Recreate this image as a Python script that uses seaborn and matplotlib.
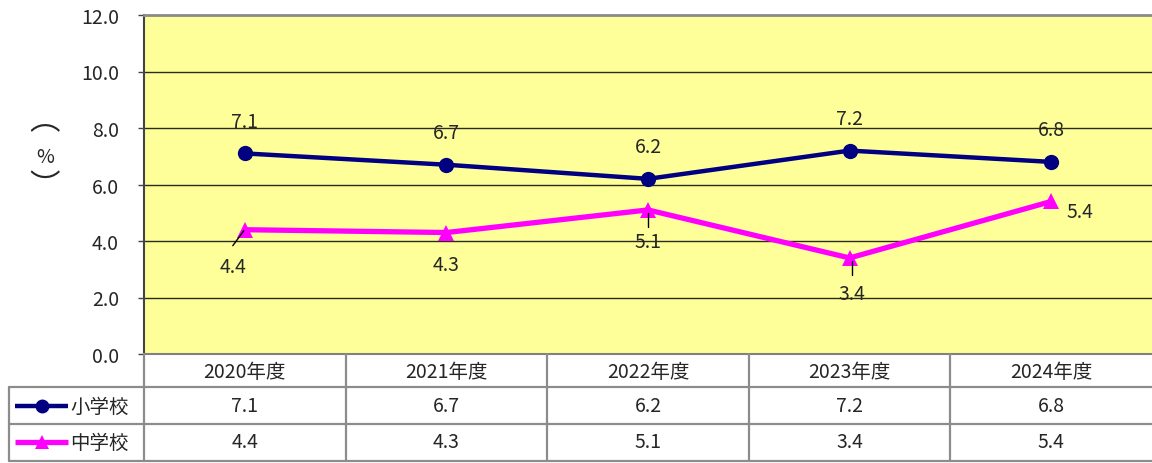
import matplotlib
matplotlib.use("Agg")
import matplotlib.pyplot as plt
import seaborn as sns
import pandas as pd

# ---- data ----
years = ["2020年度", "2021年度", "2022年度", "2023年度", "2024年度"]
elementary = [7.1, 6.7, 6.2, 7.2, 6.8]
junior_high = [4.4, 4.3, 5.1, 3.4, 5.4]
series_names = ["小学校", "中学校"]
y_ticks = [0, 2, 4, 6, 8, 10, 12]

sns.set_style("white")
plt.rcParams["font.family"] = ["Noto Sans CJK JP", "DejaVu Sans"]

colors = {"小学校": "#000080", "中学校": "#FF00FF"}
markers = {"小学校": "o", "中学校": "^"}

df = pd.DataFrame({
    "pos": list(range(len(years))) * 2,
    "value": elementary + junior_high,
    "school": [series_names[0]] * len(years) + [series_names[1]] * len(years),
})

W, H = 1152, 464
fig = plt.figure(figsize=(W / 100, H / 100), dpi=100)


def px_axes(left, top, right, bottom):
    return fig.add_axes([left / W, 1 - bottom / H, (right - left) / W, (bottom - top) / H])


FS = 14
PT = 0.72  # points per pixel at 100 dpi

# ---- main chart ----
ax = px_axes(144, 16, 1152, 355)
ax.set_facecolor("#FFFF99")
ax.set_xlim(-0.5, 4.5)
ax.set_ylim(0, 12)
for y in y_ticks[1:-1]:
    ax.axhline(y, color="#2b2b1a", lw=1.0, zorder=1)

sns.lineplot(data=df[df.school == "小学校"], x="pos", y="value", ax=ax,
             color=colors["小学校"], marker="o", markersize=11, lw=3.2,
             markeredgewidth=0, zorder=3, legend=False)
sns.lineplot(data=df[df.school == "中学校"], x="pos", y="value", ax=ax,
             color=colors["中学校"], marker="^", markersize=11, lw=3.8,
             markeredgewidth=0, zorder=3, legend=False)

ax.set_xticks([])
ax.set_xlabel("")
ax.set_ylabel("")
ax.set_yticks(y_ticks)
ax.set_yticklabels([f"{v:.1f}" for v in y_ticks], fontsize=FS)
ax.tick_params(axis="y", direction="out", length=4, width=1, color="#444444", pad=14, left=True)
ax.spines["top"].set_color("#8a8a8a")
ax.spines["top"].set_linewidth(2)
ax.spines["left"].set_color("#444444")
ax.spines["left"].set_linewidth(1.5)
ax.spines["right"].set_visible(False)
ax.spines["bottom"].set_color("#808080")
ax.spines["bottom"].set_linewidth(1.5)

# value labels: elementary above the points
for i, v in enumerate(elementary):
    ax.annotate(f"{v:.1f}", (i, v), xytext=(0, 32 * PT), textcoords="offset points",
                ha="center", va="center", fontsize=FS, zorder=4)

# value labels: junior high below, with leader lines where needed
jh_offsets = [(-12, -37), (0, -32), (0, -32), (2, -36), (29, -10)]
jh_leaders = [True, False, True, True, False]
for i, (v, (dx, dy), lead) in enumerate(zip(junior_high, jh_offsets, jh_leaders)):
    ax.annotate(f"{v:.1f}", (i, v), xytext=(dx * PT, dy * PT), textcoords="offset points",
                ha="center", va="center", fontsize=FS, zorder=4)
    if lead:
        if dx < -5:
            start, end = (-12, -16), (-1, -1)
        else:
            start, end = (dx, -17), (dx, -3)
        x0, y0 = ax.transData.transform((i, v))
        ax.plot([x0 + start[0], x0 + end[0]], [y0 + start[1], y0 + end[1]],
                transform=None, color="black", lw=1.0, zorder=4)

# vertical axis unit, written top to bottom with vertical-form brackets
fig.text(45 / W, 1 - 121 / H, "︵", fontsize=22, ha="center", va="center")
fig.text(45 / W, 1 - 158 / H, "%", fontsize=FS, ha="center", va="center")
fig.text(45 / W, 1 - 187 / H, "︶", fontsize=22, ha="center", va="center")

# ---- data table ----
tab = px_axes(9, 355, 1152, 464)
col_w = 1008 / 5
x_left = -0.5 - 135 / col_w
tab.set_xlim(x_left, 4.5)
tab.set_ylim(464, 355)
tab.axis("off")


def xd(px):
    return -0.5 + (px - 144) / col_w


grid_kw = dict(color="#8c8c8c", lw=1.6, clip_on=False)
for yy in (388, 425, 462):
    tab.plot([x_left, 4.5], [yy, yy], **grid_kw)
tab.plot([x_left, x_left], [388, 462], **grid_kw)
for i in range(1, 5):
    tab.plot([i - 0.5, i - 0.5], [355, 462], **grid_kw)
tab.plot([-0.5, -0.5], [355, 462], **grid_kw)

for i, yr in enumerate(years):
    tab.text(i, 373, yr, ha="center", va="center", fontsize=FS)
for row_y, name, vals in ((407, "小学校", elementary), (443, "中学校", junior_high)):
    for i, v in enumerate(vals):
        tab.text(i, row_y, f"{v:.1f}", ha="center", va="center", fontsize=FS)
    tab.plot([xd(15), xd(68)], [row_y, row_y], color=colors[name],
             lw=3.2 if name == "小学校" else 3.8, solid_capstyle="butt", clip_on=False)
    tab.plot([xd(42)], [row_y], marker=markers[name], color=colors[name],
             markersize=10, markeredgewidth=0, clip_on=False)
    tab.text(xd(70), row_y, name, ha="left", va="center", fontsize=FS)

fig.savefig("out.png", dpi=100)
